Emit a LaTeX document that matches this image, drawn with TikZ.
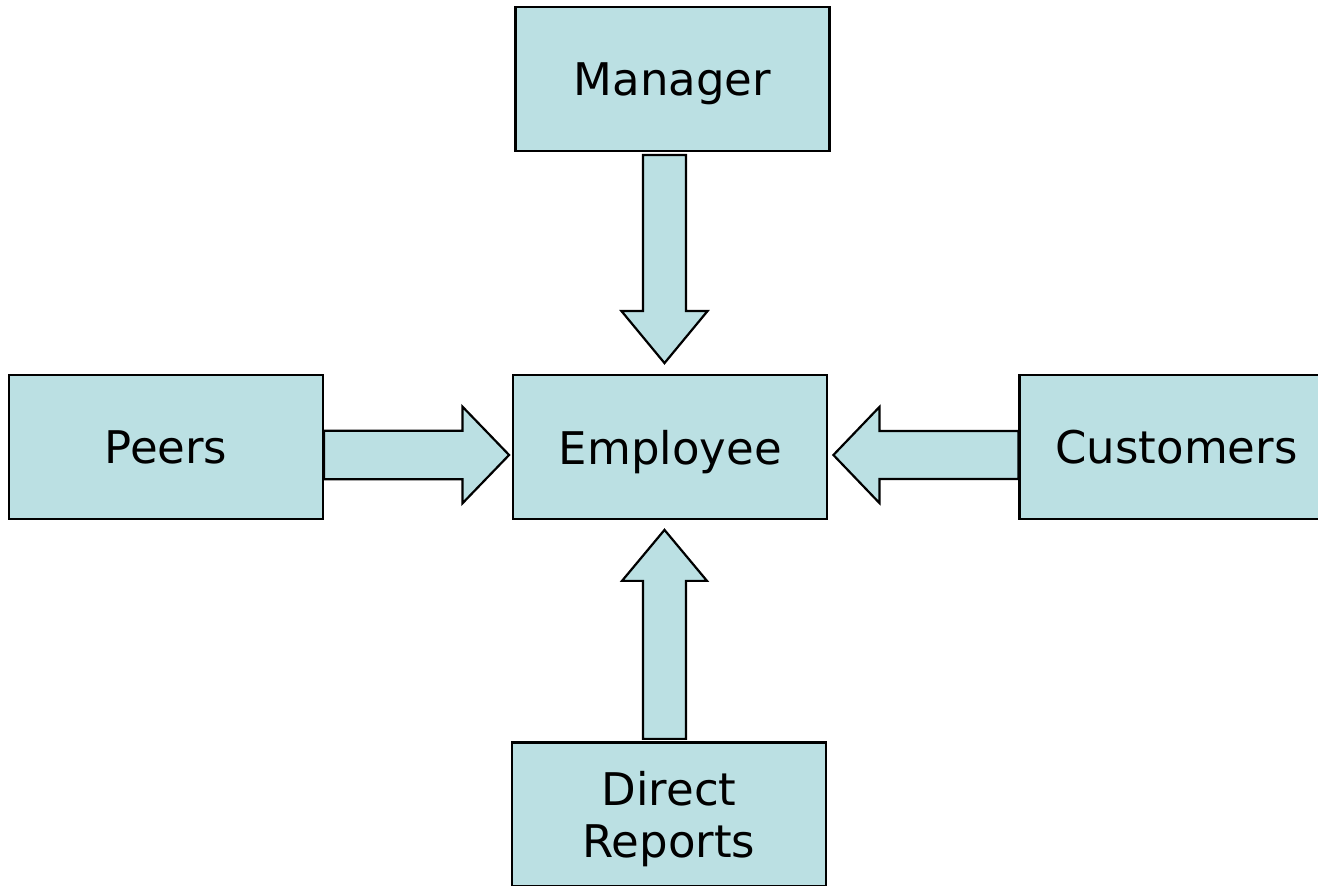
\documentclass[tikz,border=0pt]{standalone}
\usepackage{fontspec}
\setmainfont{DejaVu Sans}
\definecolor{boxfill}{RGB}{187,224,227}
\begin{document}
\begin{tikzpicture}[x=0.5pt,y=-0.5pt,
  box/.style={draw=black, line width=1.1pt, fill=boxfill, minimum width=157pt,
    minimum height=72pt, inner sep=0pt, text depth=0pt,
    font=\fontsize{22.5}{26}\selectfont, align=center},
  barrowline/.style={draw=black, line width=1.1pt, fill=boxfill, line join=miter},
  pics/blockarrow/.style n args={4}{code={
    \path[barrowline] (0,-#2) -- ({#1-#4},-#2) -- ({#1-#4},-#3) -- (#1,0)
      -- ({#1-#4},#3) -- ({#1-#4},#2) -- (0,#2) -- cycle;}}
]
\useasboundingbox (0,0) rectangle (1318,886);
\clip (0,0) rectangle (1318,886);

\node[box] (mgr)   at (672.5,79)   {Manager};
\node[box] (emp)   at (670.3,447)  {Employee};
\node[box] (peers) at (166,447)    {Peers};
\node[box] (cust)  at (1176.5,447) {Customers};
\node[box] (dr)    at (669,814.5)  {Direct\\Reports};

\coordinate (mgrOut)   at ([xshift=-4pt,yshift=-1.5pt]mgr.south);
\coordinate (peersOut) at ([yshift=-4pt]peers.east);
\coordinate (custOut)  at ([yshift=-4pt]cust.west);
\coordinate (drOut)    at ([xshift=-2.25pt,yshift=1.25pt]dr.north);

\pic[rotate=-90] at (mgrOut)   {blockarrow={208}{21.5}{43}{52}};
\pic             at (peersOut) {blockarrow={185}{24.3}{48.3}{46.6}};
\pic[rotate=180] at (custOut)  {blockarrow={185}{24}{48}{46}};
\pic[rotate=90]  at (drOut)    {blockarrow={209}{21.5}{42.5}{51}};
\end{tikzpicture}
\end{document}
